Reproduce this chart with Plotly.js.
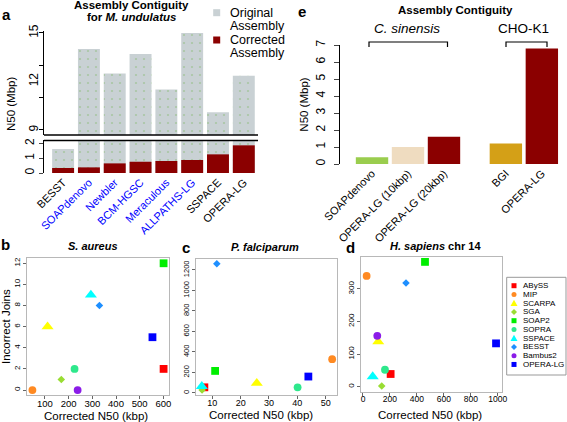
<!DOCTYPE html>
<html><head><meta charset="utf-8">
<script src="https://cdn.plot.ly/plotly-3.0.1.min.js"></script>
<style>html,body{margin:0;padding:0;background:#fff}#chart{width:567px;height:422px}</style>
</head><body><div id="chart"></div>
<script>
// ---------- DATA ----------
// Panel a: M. undulatus assembly contiguity (N50, Mbp)
const aAssemblers = ['BESST','SOAPdenovo','Newbler','BCM-HGSC','Meraculous','ALLPATHS-LG','SSPACE','OPERA-LG'];
const aOriginal   = [1.62, 14.0, 12.5, 13.7, 11.5, 15.0, 10.1, 12.35];
const aCorrected  = [0.34, 0.38, 0.65, 0.76, 0.81, 0.88, 1.26, 1.87];

// Panel e: assembly contiguity (N50, Mbp)
const eLabels = ['SOAPdenovo','OPERA-LG (10kbp)','OPERA-LG (20kbp)','BGI','OPERA-LG'];
const eGroups = ['C. sinensis','C. sinensis','C. sinensis','CHO-K1','CHO-K1'];
const eN50    = [0.4, 1.0, 1.6, 1.2, 6.8];

// Panels b-d: scaffolders
const methods = ['ABySS','MIP','SCARPA','SGA','SOAP2','SOPRA','SSPACE','BESST','Bambus2','OPERA-LG'];
const aureusN50       = [601, 47, 111, 169, 601, 225, 294, 330, 238, 554];
const aureusJoins     = [2, 0, 6, 1, 12, 2, 9, 8, 0, 5];
const falciparumN50   = [7.2, 52.3, 25.7, 6.4, 11.0, 40.1, 6.3, 11.6, null, 43.9];
const falciparumJoins = [55, 330, 95, 30, 215, 55, 65, 1260, null, 160];
const sapiensN50      = [205, 27, 113, 139, 460, 163, 72, 319, 106, 987];
const sapiensJoins    = [39, 340, 138, 2, 383, 52, 31, 318, 156, 133];

// ---------- STYLE / LAYOUT ----------
const W = 567, H = 422;
const fx = p => p / W;
const fy = p => 1 - p / H;
const FONT = 'Liberation Sans, Arial, Helvetica, sans-serif';
const DARKRED = '#8b0000';
const GREY = '#c9d1d4';
const aBlue = new Set(['SOAPdenovo','Newbler','BCM-HGSC','Meraculous','ALLPATHS-LG']);
const eColors = ['#9acd4e', '#efdcc0', DARKRED, '#d4a017', DARKRED];
const mStyle = {
  'ABySS':   {c:'#ff0000', s:'square'},
  'MIP':     {c:'#ff8a22', s:'circle'},
  'SCARPA':  {c:'#ffff00', s:'triangle-up'},
  'SGA':     {c:'#99dd33', s:'diamond'},
  'SOAP2':   {c:'#00ee00', s:'square'},
  'SOPRA':   {c:'#2ee88c', s:'circle'},
  'SSPACE':  {c:'#00ffff', s:'triangle-up'},
  'BESST':   {c:'#1e8fff', s:'diamond'},
  'Bambus2': {c:'#8b1ce8', s:'circle'},
  'OPERA-LG':{c:'#0000ff', s:'square'}
};
const symSize = {'square':7.8, 'circle':7.8, 'triangle-up':10.5, 'diamond':5.8};

const traces = [];
// Panel a bars (broken axis: bottom y, top y2)
const origPattern = {shape:'.', fgcolor:'#a9c6a4', bgcolor:GREY, size:8, solidity:0.06};
traces.push({type:'bar', x:aAssemblers, y:aOriginal, xaxis:'x', yaxis:'y', width:0.85,
  marker:{color:GREY, opacity:1, line:{width:0}, pattern:origPattern}, name:'Original Assembly', hoverinfo:'skip'});
traces.push({type:'bar', x:aAssemblers, y:aOriginal, xaxis:'x', yaxis:'y2', width:0.85,
  marker:{color:GREY, opacity:1, line:{width:0}, pattern:origPattern}, name:'Original Assembly', hoverinfo:'skip'});
traces.push({type:'bar', x:aAssemblers, y:aCorrected, xaxis:'x', yaxis:'y', width:0.85,
  marker:{color:DARKRED, opacity:1, line:{width:0}}, name:'Corrected Assembly', hoverinfo:'skip'});

// Panel e bars
const groupOrder = [...new Set(eGroups)];
const eGap = 0.72;
const eX = eLabels.map((_, i) => i + groupOrder.indexOf(eGroups[i]) * eGap);
traces.push({type:'bar', x:eX, y:eN50, xaxis:'x2', yaxis:'y3', width:0.9,
  marker:{color:eColors, opacity:1, line:{width:0}}, hoverinfo:'skip'});

// Panels b-d scatter
function addPanel(xs, ys, xa, ya) {
  methods.forEach((m, i) => {
    if (xs[i] == null) return;
    const st = mStyle[m];
    traces.push({type:'scatter', mode:'markers', x:[xs[i]], y:[ys[i]], xaxis:xa, yaxis:ya, name:m,
      marker:{color:st.c, symbol:st.s, size:symSize[st.s], line:{width:0}}, cliponaxis:false, hoverinfo:'skip'});
  });
}
addPanel(aureusN50, aureusJoins, 'x3', 'y4');
addPanel(falciparumN50, falciparumJoins, 'x4', 'y5');
addPanel(sapiensN50, sapiensJoins, 'x5', 'y6');

const tf = (s) => ({family:FONT, size:s, color:'#000'});
const boxAxis = {showline:true, mirror:true, linecolor:'#b8b8b8', linewidth:1, ticks:'outside', ticklen:3,
  tickcolor:'#666', showgrid:false, zeroline:false};

const layout = {
  width:W, height:H, margin:{l:0,r:0,t:0,b:0}, paper_bgcolor:'#fff', plot_bgcolor:'rgba(0,0,0,0)',
  showlegend:false, barmode:'overlay', font:{family:FONT, color:'#000'},
  // a
  xaxis:{domain:[fx(44), fx(258)], range:[-0.74, 7.55], type:'category', anchor:'y',
    tickvals:aAssemblers, ticktext:aAssemblers.map(a => aBlue.has(a) ? '<span style="color:#0000ff">'+a+'</span>' : a),
    tickangle:-45, ticks:'', showline:false, showgrid:false, zeroline:false, tickfont:tf(11)},
  yaxis:{domain:[fy(173), fy(140)], range:[0, 2.23], anchor:'x', tickvals:[0,1,2], ticks:'outside', ticklen:4,
    showline:true, linecolor:'#000', tickangle:-90, tickfont:tf(12), showgrid:false, zeroline:false},
  yaxis2:{domain:[fy(135), fy(31)], range:[8.69, 15.12], anchor:'x', tickvals:[9,12,15], ticks:'', ticklen:4,
    minor:{tickvals:[9,11,13,15], ticks:'outside', ticklen:4, tickcolor:'#000'},
    showline:true, linecolor:'#000', tickangle:-90, tickfont:tf(12), showgrid:false, zeroline:false},
  // e
  xaxis2:{domain:[fx(340), fx(562)], range:[-0.89, 5.28], anchor:'y3', tickvals:eX, ticktext:eLabels,
    tickangle:-45, ticks:'', showline:false, showgrid:false, zeroline:false, tickfont:tf(11)},
  yaxis3:{domain:[fy(164), fy(45)], range:[0, 7], anchor:'x2', dtick:1, ticks:'outside', ticklen:5,
    showline:true, linecolor:'#000', tickangle:-90, tickfont:tf(12), showgrid:false, zeroline:false,
    ticklabelstandoff:4, title:{text:'N50 (Mbp)', font:tf(11.5), standoff:3}},
  // b
  xaxis3:Object.assign({}, boxAxis, {domain:[fx(27.2), fx(168.8)], range:[25, 623], anchor:'y4',
    tickvals:[100,200,300,400,500,600], tickfont:tf(9.5), ticklabelstandoff:-4}),
  yaxis4:Object.assign({}, boxAxis, {domain:[fy(395.1), fy(258.2)], range:[-0.48, 12.48], anchor:'x3',
    tickvals:[0,2,4,6,8,10,12], tickangle:-90, tickfont:tf(8), title:{text:'Incorrect Joins', font:tf(11.5), standoff:2}}),
  // c
  xaxis4:Object.assign({}, boxAxis, {domain:[fx(196), fx(336.7)], range:[4.25, 53.9], anchor:'y5',
    tickvals:[10,20,30,40,50], tickfont:tf(9), ticklabelstandoff:-4}),
  yaxis5:Object.assign({}, boxAxis, {domain:[fy(395), fy(258.5)], range:[-20, 1312], anchor:'x4',
    tickvals:[0,200,400,600,800,1000,1200], tickangle:-90, tickfont:tf(7.5)}),
  // d
  xaxis5:Object.assign({}, boxAxis, {domain:[fx(361), fx(501.7)], range:[-14.8, 1029], anchor:'y6',
    tickvals:[0,200,400,600,800,1000], tickfont:tf(8.5), ticklabelstandoff:-4}),
  yaxis6:Object.assign({}, boxAxis, {domain:[fy(391.6), fy(257)], range:[-15, 398], anchor:'x5',
    tickvals:[0,100,200,300], tickangle:-90, tickfont:tf(8)}),
  annotations:[], shapes:[]
};

function ann(text, px, py, size, opts) {
  layout.annotations.push(Object.assign({xref:'paper', yref:'paper', x:fx(px), y:fy(py), xanchor:'center', yanchor:'middle',
    showarrow:false, text:text, font:tf(size)}, opts || {}));
}
// panel letters
ann('<b>a</b>', 6, 14, 15);
ann('<b>e</b>', 302, 12, 15);
ann('<b>b</b>', 5, 244, 15);
ann('<b>c</b>', 186, 247, 15);
ann('<b>d</b>', 350, 247, 15);
// panel a titles
ann('<b>Assembly Contiguity</b>', 131, 5, 11.5);
ann('<b>for <i>M. undulatus</i></b>', 131, 17.5, 11.5);
ann('N50 (Mbp)', 11, 104, 11.5, {textangle:-90});
// x-axis titles for b-d
ann('Corrected N50 (kbp)', 96, 415.5, 11.5);
ann('Corrected N50 (kbp)', 261, 414.5, 11.5);
ann('Corrected N50 (kbp)', 430, 415, 11.5);
// shapes helpers
function sq(cx, cy, s, color) {
  layout.shapes.push({type:'rect', xref:'paper', yref:'paper', x0:fx(cx-s/2), x1:fx(cx+s/2), y0:fy(cy+s/2), y1:fy(cy-s/2),
    fillcolor:color, line:{width:0}});
}
function circ(cx, cy, d, color) {
  layout.shapes.push({type:'circle', xref:'paper', yref:'paper', x0:fx(cx-d/2), x1:fx(cx+d/2), y0:fy(cy+d/2), y1:fy(cy-d/2),
    fillcolor:color, line:{width:0}});
}
function poly(pts, color) {
  const p = pts.map((q, i) => (i ? 'L' : 'M') + fx(q[0]).toFixed(5) + ',' + fy(q[1]).toFixed(5)).join(' ') + ' Z';
  layout.shapes.push({type:'path', xref:'paper', yref:'paper', path:p, fillcolor:color, line:{width:0}});
}
function legSym(sym, cx, cy, color) {
  if (sym === 'square') sq(cx, cy, 5, color);
  else if (sym === 'circle') circ(cx, cy, 5, color);
  else if (sym === 'triangle-up') poly([[cx-3.5, cy+2.8],[cx+3.5, cy+2.8],[cx, cy-3.4]], color);
  else poly([[cx, cy-3],[cx+3, cy],[cx, cy+3],[cx-3, cy]], color);
}
// panel a legend
sq(216.7, 12.7, 7, GREY);
sq(216.7, 40, 7, DARKRED);
ann('Original', 227.5, 12.7, 12.5, {xanchor:'left'});
ann('Assembly', 227.5, 25.5, 12.5, {xanchor:'left'});
ann('Corrected', 227.5, 40, 12.5, {xanchor:'left'});
ann('Assembly', 227.5, 53, 12.5, {xanchor:'left'});
// panel a broken-axis marks
[135, 140.5].forEach(py => layout.shapes.push({type:'line', xref:'paper', yref:'paper', x0:fx(44), x1:fx(258), y0:fy(py), y1:fy(py),
  line:{color:'#000', width:1.5}}));
// panel e titles and brackets
ann('<b>Assembly Contiguity</b>', 455, 10, 11.5);
ann('<i>C. sinensis</i>', 407, 29, 13.5);
ann('CHO-K1', 523, 29, 13.5);
function bracket(x0, x1) {
  layout.shapes.push({type:'path', xref:'paper', yref:'paper',
    path:'M'+fx(x0)+','+fy(47)+' L'+fx(x0)+','+fy(42)+' L'+fx(x1)+','+fy(42)+' L'+fx(x1)+','+fy(47),
    line:{color:'#000', width:1.2}});
}
bracket(369, 447.5);
bracket(506, 547);
// panel b-d titles
ann('<b><i>S. aureus</i></b>', 93, 245.5, 11);
ann('<b><i>P. falciparum</i></b>', 265, 247, 11);
ann('<b><i>H. sapiens</i> chr 14</b>', 435, 246, 11);
// panel d legend
layout.shapes.push({type:'rect', xref:'paper', yref:'paper', x0:fx(506.7), x1:fx(566), y0:fy(375), y1:fy(277.3),
  line:{color:'#999', width:1}, fillcolor:'rgba(0,0,0,0)'});
methods.forEach((m, i) => {
  const cy = 285.7 + i * 8.75;
  legSym(mStyle[m].s, 514, cy, mStyle[m].c);
  ann(m, 520.5, cy, 8, {xanchor:'left'});
});

Plotly.newPlot('chart', traces, layout, {staticPlot:true, displayModeBar:false});
</script>
</body></html>
